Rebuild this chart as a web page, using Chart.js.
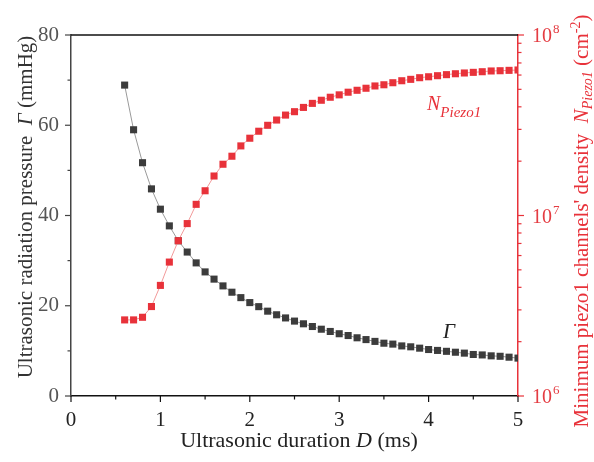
<!DOCTYPE html>
<html>
<head>
<meta charset="utf-8">
<title>Ultrasonic radiation pressure and Piezo1 channel density</title>
<script src="https://cdn.jsdelivr.net/npm/chart.js@4.4.1/dist/chart.umd.min.js"></script>
<style>
  html, body { margin: 0; padding: 0; background: #ffffff; }
  #chart { display: block; }
</style>
</head>
<body>
<canvas id="chart" width="594" height="462"></canvas>
<script>
'use strict';

// Ultrasonic duration D (ms)
var durations = [
  0.6, 0.7, 0.8, 0.9, 1.0, 1.1, 1.2, 1.3, 1.4, 1.5,
  1.6, 1.7, 1.8, 1.9, 2.0, 2.1, 2.2, 2.3, 2.4, 2.5,
  2.6, 2.7, 2.8, 2.9, 3.0, 3.1, 3.2, 3.3, 3.4, 3.5,
  3.6, 3.7, 3.8, 3.9, 4.0, 4.1, 4.2, 4.3, 4.4, 4.5,
  4.6, 4.7, 4.8, 4.9, 5.0
];

// Radiation pressure Γ (mmHg)
var pressureValues = [
  68.9, 59.0, 51.7, 45.9, 41.4, 37.7, 34.4, 31.9, 29.5, 27.5,
  25.9, 24.4, 23.0, 21.8, 20.7, 19.8, 18.8, 18.0, 17.3, 16.6,
  16.0, 15.4, 14.8, 14.3, 13.8, 13.4, 12.9, 12.5, 12.1, 11.7,
  11.5, 11.1, 10.9, 10.6, 10.3, 10.1, 9.9, 9.7, 9.5, 9.2,
  9.1, 8.9, 8.8, 8.6, 8.4
];

// Minimum Piezo1 channel density (cm^-2)
var densityValues = [
  2.64e6, 2.64e6, 2.73e6, 3.13e6, 4.10e6, 5.52e6, 7.25e6, 9.02e6, 1.153e7, 1.371e7,
  1.655e7, 1.923e7, 2.13e7, 2.43e7, 2.68e7, 2.93e7, 3.16e7, 3.38e7, 3.60e7, 3.76e7,
  3.97e7, 4.18e7, 4.35e7, 4.52e7, 4.66e7, 4.82e7, 4.94e7, 5.07e7, 5.22e7, 5.30e7,
  5.44e7, 5.58e7, 5.68e7, 5.80e7, 5.87e7, 5.95e7, 6.03e7, 6.10e7, 6.16e7, 6.21e7,
  6.26e7, 6.32e7, 6.34e7, 6.37e7, 6.40e7
];

// Tick labels
var durationTicks = [0, 1, 2, 3, 4, 5];
var pressureTicks = [0, 20, 40, 60, 80];
var densityExponents = [6, 7, 8];

var RED = '#e8323a';
var RED_TEXT = '#e43c42';
var DARK = '#3c3c3c';
var SERIF = '"Liberation Serif", "Times New Roman", serif';

Chart.defaults.font.family = SERIF;

function toPoints(xs, ys) {
  return xs.map(function(x, i) { return { x: x, y: ys[i] }; });
}

/**
 * Draw a run of text pieces (mixed italic / sub / superscript) centred
 * on (cx, cy), optionally rotated.
 */
function drawRuns(ctx, runs, cx, cy, angle, color) {
  ctx.save();
  ctx.translate(cx, cy);
  ctx.rotate(angle);
  ctx.textAlign = 'left';
  ctx.textBaseline = 'alphabetic';
  ctx.fillStyle = color;
  var total = 0;
  runs.forEach(function(r) {
    ctx.font = r.font;
    r.w = ctx.measureText(r.text).width;
    total += r.w;
  });
  var pos = -total / 2;
  runs.forEach(function(r) {
    ctx.font = r.font;
    ctx.fillText(r.text, pos, r.dy || 0);
    pos += r.w;
  });
  ctx.restore();
}

// Frame line, tick marks, log labels, axis titles and curve labels
var decorPlugin = {
  id: 'decor',
  afterDraw: function(chart) {
    var ctx = chart.ctx;
    var area = chart.chartArea;
    var xs = chart.scales.x;
    var yl = chart.scales.y;
    var yr = chart.scales.yDensity;

    ctx.save();

    // top frame
    ctx.strokeStyle = '#111';
    ctx.lineWidth = 1.5;
    ctx.beginPath();
    ctx.moveTo(area.left, area.top);
    ctx.lineTo(area.right, area.top);
    ctx.stroke();

    // x ticks: majors at labels, minors in between
    ctx.strokeStyle = '#111';
    ctx.lineWidth = 1.2;
    durationTicks.forEach(function(v, i) {
      var px = xs.getPixelForValue(v);
      ctx.beginPath();
      ctx.moveTo(px, area.bottom);
      ctx.lineTo(px, area.bottom + 6);
      ctx.stroke();
      if (i < durationTicks.length - 1) {
        var mx = xs.getPixelForValue(v + 0.5);
        ctx.beginPath();
        ctx.moveTo(mx, area.bottom);
        ctx.lineTo(mx, area.bottom + 3.5);
        ctx.stroke();
      }
    });

    // left ticks
    ctx.strokeStyle = '#444';
    pressureTicks.forEach(function(v, i) {
      var py = yl.getPixelForValue(v);
      ctx.beginPath();
      ctx.moveTo(area.left, py);
      ctx.lineTo(area.left - 6, py);
      ctx.stroke();
      if (i < pressureTicks.length - 1) {
        var my = yl.getPixelForValue(v + 10);
        ctx.beginPath();
        ctx.moveTo(area.left, my);
        ctx.lineTo(area.left - 3.5, my);
        ctx.stroke();
      }
    });

    // right log ticks and 10^n labels
    ctx.strokeStyle = RED;
    densityExponents.forEach(function(e, i) {
      var base = Math.pow(10, e);
      var py = yr.getPixelForValue(base);
      ctx.beginPath();
      ctx.moveTo(area.right, py);
      ctx.lineTo(area.right + 6, py);
      ctx.stroke();
      if (i < densityExponents.length - 1) {
        for (var k = 2; k <= 9; k++) {
          var my = yr.getPixelForValue(k * base);
          ctx.beginPath();
          ctx.moveTo(area.right, my);
          ctx.lineTo(area.right + 3.5, my);
          ctx.stroke();
        }
      }
      ctx.fillStyle = RED_TEXT;
      ctx.textAlign = 'left';
      ctx.textBaseline = 'alphabetic';
      ctx.font = '20px ' + SERIF;
      ctx.fillText('10', area.right + 14, py + 7);
      var w = ctx.measureText('10').width;
      ctx.font = '13px ' + SERIF;
      ctx.fillText(String(e), area.right + 14 + w + 1, py - 2);
    });

    ctx.restore();

    // axis titles
    var f = '21px ' + SERIF;
    var fi = 'italic 21px ' + SERIF;
    var fs = 'italic 14px ' + SERIF;
    var fsup = '14px ' + SERIF;

    drawRuns(ctx, [
      { text: 'Ultrasonic duration ', font: '22px ' + SERIF },
      { text: 'D', font: 'italic 22px ' + SERIF },
      { text: ' (ms)', font: '22px ' + SERIF }
    ], 299, 447, 0, '#222');

    drawRuns(ctx, [
      { text: 'Ultrasonic radiation pressure  ', font: f },
      { text: '\u0393', font: fi },
      { text: ' (mmHg)', font: f }
    ], 32, 207, -Math.PI / 2, '#333');

    drawRuns(ctx, [
      { text: 'Minimum piezo1 channels\' density  ', font: f },
      { text: 'N', font: fi },
      { text: 'Piezo1', font: fs, dy: 4 },
      { text: ' (cm', font: f },
      { text: '-2', font: fsup, dy: -8 },
      { text: ')', font: f }
    ], 588, 221, -Math.PI / 2, RED);

    // curve labels
    ctx.save();
    ctx.textAlign = 'left';
    ctx.textBaseline = 'alphabetic';
    ctx.fillStyle = RED;
    ctx.font = 'italic 20px ' + SERIF;
    ctx.fillText('N', 427, 110);
    var nw = ctx.measureText('N').width;
    ctx.font = 'italic 15px ' + SERIF;
    ctx.fillText('Piezo1', 427 + nw, 117);
    ctx.fillStyle = '#222';
    ctx.font = 'italic 21px ' + SERIF;
    ctx.fillText('\u0393', 443, 338);
    ctx.restore();
  }
};

var ctx = document.getElementById('chart').getContext('2d');

new Chart(ctx, {
  type: 'line',
  data: {
    datasets: [
      {
        label: 'Gamma',
        data: toPoints(durations, pressureValues),
        yAxisID: 'y',
        order: 2,
        borderColor: '#9a9a9a',
        borderWidth: 1,
        backgroundColor: DARK,
        pointStyle: 'rect',
        pointRadius: 5,
        pointBorderWidth: 0,
        pointBackgroundColor: DARK,
        tension: 0
      },
      {
        label: 'N_Piezo1',
        data: toPoints(durations, densityValues),
        yAxisID: 'yDensity',
        order: 1,
        borderColor: '#f29a9a',
        borderWidth: 1,
        backgroundColor: RED,
        pointStyle: 'rect',
        pointRadius: 5,
        pointBorderWidth: 0,
        pointBackgroundColor: RED,
        tension: 0
      }
    ]
  },
  options: {
    responsive: false,
    animation: false,
    layout: { padding: { top: 35, left: 0, right: 0, bottom: 0 } },
    plugins: {
      legend: { display: false },
      tooltip: { enabled: false }
    },
    scales: {
      x: {
        type: 'linear',
        min: 0,
        max: 5,
        grid: { display: false, drawTicks: false },
        border: { display: true, color: '#111', width: 1.5 },
        ticks: {
          stepSize: 1,
          padding: 12,
          color: '#222',
          font: { size: 21 },
          maxRotation: 0
        },
        afterFit: function(scale) { scale.height = 66; }
      },
      y: {
        type: 'linear',
        position: 'left',
        min: 0,
        max: 80,
        grid: { display: false, drawTicks: false },
        border: { display: true, color: '#444', width: 1.5 },
        ticks: {
          stepSize: 20,
          padding: 12,
          color: '#555',
          font: { size: 21 }
        },
        afterFit: function(scale) { scale.width = 71; }
      },
      yDensity: {
        type: 'logarithmic',
        position: 'right',
        min: 1e6,
        max: 1e8,
        grid: { display: false, drawTicks: false },
        border: { display: true, color: RED, width: 1.5 },
        ticks: { display: false },
        afterFit: function(scale) { scale.width = 76; }
      }
    }
  },
  plugins: [decorPlugin]
});
</script>
</body>
</html>
